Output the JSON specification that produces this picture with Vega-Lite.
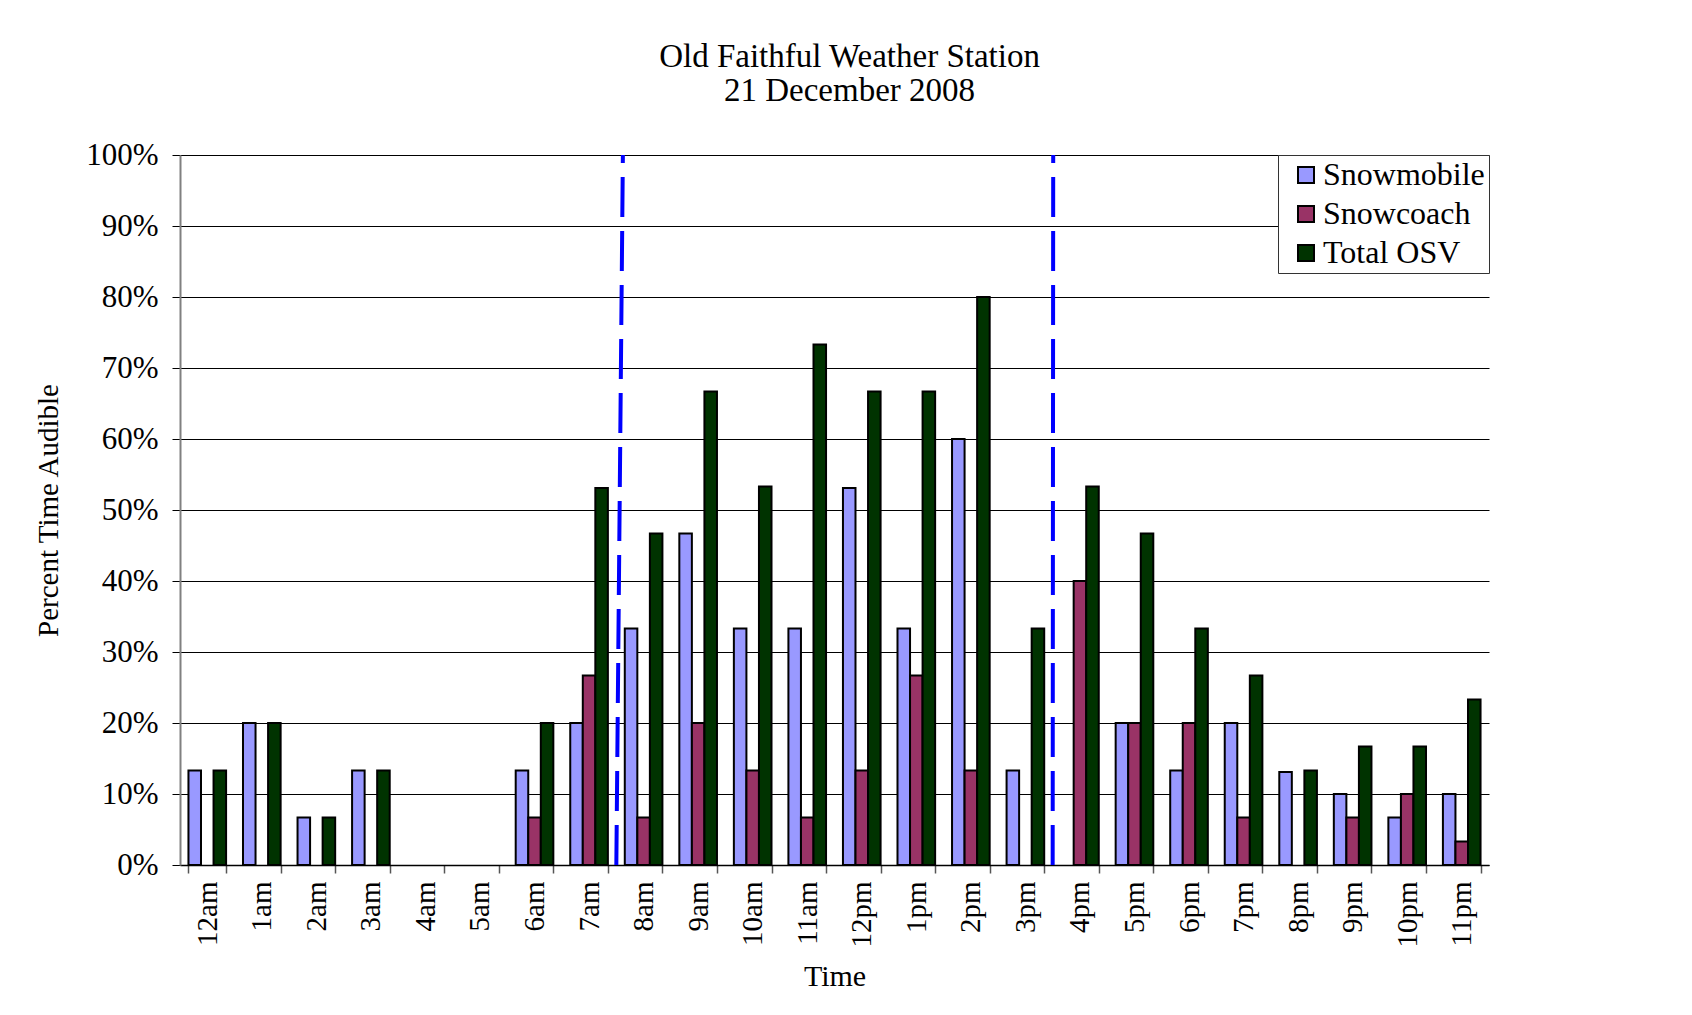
{
  "$schema": "https://vega.github.io/schema/vega-lite/v6.json",
  "width": 1309,
  "height": 710,
  "autosize": {"type": "none"},
  "padding": {"left": 180, "top": 155, "right": 203, "bottom": 150},
  "background": "white",
  "config": {"font": "Liberation Serif", "view": {"stroke": null}},
  "title": {
    "text": ["Old Faithful Weather Station", "21 December 2008"],
    "fontSize": 33, "font": "Liberation Serif", "fontWeight": "normal", "color": "black",
    "anchor": "middle", "frame": "group", "baseline": "bottom", "offset": -2, "lineHeight": 34, "dx": 15
  },
  "datasets": {
    "bars": [
      {"hour": "12am", "series": "Snowmobile", "value": 13.3},
      {"hour": "12am", "series": "Total OSV", "value": 13.3},
      {"hour": "1am", "series": "Snowmobile", "value": 20},
      {"hour": "1am", "series": "Total OSV", "value": 20},
      {"hour": "2am", "series": "Snowmobile", "value": 6.7},
      {"hour": "2am", "series": "Total OSV", "value": 6.7},
      {"hour": "3am", "series": "Snowmobile", "value": 13.3},
      {"hour": "3am", "series": "Total OSV", "value": 13.3},
      {"hour": "6am", "series": "Snowmobile", "value": 13.3},
      {"hour": "6am", "series": "Snowcoach", "value": 6.7},
      {"hour": "6am", "series": "Total OSV", "value": 20},
      {"hour": "7am", "series": "Snowmobile", "value": 20},
      {"hour": "7am", "series": "Snowcoach", "value": 26.7},
      {"hour": "7am", "series": "Total OSV", "value": 53.1},
      {"hour": "8am", "series": "Snowmobile", "value": 33.3},
      {"hour": "8am", "series": "Snowcoach", "value": 6.7},
      {"hour": "8am", "series": "Total OSV", "value": 46.7},
      {"hour": "9am", "series": "Snowmobile", "value": 46.7},
      {"hour": "9am", "series": "Snowcoach", "value": 20},
      {"hour": "9am", "series": "Total OSV", "value": 66.7},
      {"hour": "10am", "series": "Snowmobile", "value": 33.3},
      {"hour": "10am", "series": "Snowcoach", "value": 13.3},
      {"hour": "10am", "series": "Total OSV", "value": 53.3},
      {"hour": "11am", "series": "Snowmobile", "value": 33.3},
      {"hour": "11am", "series": "Snowcoach", "value": 6.7},
      {"hour": "11am", "series": "Total OSV", "value": 73.3},
      {"hour": "12pm", "series": "Snowmobile", "value": 53.1},
      {"hour": "12pm", "series": "Snowcoach", "value": 13.3},
      {"hour": "12pm", "series": "Total OSV", "value": 66.7},
      {"hour": "1pm", "series": "Snowmobile", "value": 33.3},
      {"hour": "1pm", "series": "Snowcoach", "value": 26.7},
      {"hour": "1pm", "series": "Total OSV", "value": 66.7},
      {"hour": "2pm", "series": "Snowmobile", "value": 60},
      {"hour": "2pm", "series": "Snowcoach", "value": 13.3},
      {"hour": "2pm", "series": "Total OSV", "value": 80},
      {"hour": "3pm", "series": "Snowmobile", "value": 13.3},
      {"hour": "3pm", "series": "Total OSV", "value": 33.3},
      {"hour": "4pm", "series": "Snowcoach", "value": 40},
      {"hour": "4pm", "series": "Total OSV", "value": 53.3},
      {"hour": "5pm", "series": "Snowmobile", "value": 20},
      {"hour": "5pm", "series": "Snowcoach", "value": 20},
      {"hour": "5pm", "series": "Total OSV", "value": 46.7},
      {"hour": "6pm", "series": "Snowmobile", "value": 13.3},
      {"hour": "6pm", "series": "Snowcoach", "value": 20},
      {"hour": "6pm", "series": "Total OSV", "value": 33.3},
      {"hour": "7pm", "series": "Snowmobile", "value": 20},
      {"hour": "7pm", "series": "Snowcoach", "value": 6.7},
      {"hour": "7pm", "series": "Total OSV", "value": 26.7},
      {"hour": "8pm", "series": "Snowmobile", "value": 13.1},
      {"hour": "8pm", "series": "Total OSV", "value": 13.3},
      {"hour": "9pm", "series": "Snowmobile", "value": 10},
      {"hour": "9pm", "series": "Snowcoach", "value": 6.7},
      {"hour": "9pm", "series": "Total OSV", "value": 16.7},
      {"hour": "10pm", "series": "Snowmobile", "value": 6.7},
      {"hour": "10pm", "series": "Snowcoach", "value": 10},
      {"hour": "10pm", "series": "Total OSV", "value": 16.7},
      {"hour": "11pm", "series": "Snowmobile", "value": 10},
      {"hour": "11pm", "series": "Snowcoach", "value": 3.3},
      {"hour": "11pm", "series": "Total OSV", "value": 23.3}
    ],
    "periods": [
      {"start": 8, "end": 8.12, "low": 0, "high": 100},
      {"start": 16, "end": 16.01, "low": 0, "high": 100}
    ]
  },
  "layer": [
    {
      "data": {"name": "bars"},
      "mark": {"type": "bar", "stroke": "black", "strokeWidth": 2},
      "encoding": {
        "x": {
          "field": "hour", "type": "nominal", "title": "Time",
          "scale": {
            "domain": ["12am","1am","2am","3am","4am","5am","6am","7am","8am","9am","10am","11am","12pm","1pm","2pm","3pm","4pm","5pm","6pm","7pm","8pm","9pm","10pm","11pm"],
            "paddingInner": 0.31, "paddingOuter": 0.155
          },
          "axis": {
            "tickBand": "extent", "labelAngle": -90, "labelFontSize": 29, "labelFont": "Liberation Serif",
            "labelColor": "black", "labelPadding": 8, "tickSize": 8, "tickColor": "#555555", "tickWidth": 1.5,
            "domainColor": "black", "domainWidth": 1.5, "grid": false,
            "titleFontSize": 30, "titleFont": "Liberation Serif", "titleFontWeight": "normal", "titleColor": "black", "titlePadding": 14
          }
        },
        "xOffset": {"field": "series", "type": "nominal", "sort": ["Snowmobile", "Snowcoach", "Total OSV"], "scale": {"domain": ["Snowmobile", "Snowcoach", "Total OSV"]}},
        "y": {
          "field": "value", "type": "quantitative", "title": "Percent Time Audible",
          "scale": {"domain": [0, 100], "nice": false},
          "axis": {
            "values": [0,10,20,30,40,50,60,70,80,90,100], "labelExpr": "datum.value + '%'",
            "grid": true, "gridColor": "black", "gridWidth": 1,
            "domainColor": "#808080", "domainWidth": 2, "tickColor": "black", "tickSize": 8, "tickWidth": 1,
            "labelPadding": 14, "labelFontSize": 31, "labelFont": "Liberation Serif", "labelColor": "black",
            "titleFontSize": 29, "titleFont": "Liberation Serif", "titleFontWeight": "normal", "titleColor": "black", "titlePadding": 22
          }
        },
        "color": {
          "field": "series", "type": "nominal",
          "scale": {"domain": ["Snowmobile", "Snowcoach", "Total OSV"], "range": ["#9999FF", "#993366", "#003300"]},
          "legend": {
            "title": null, "orient": "top-right", "offset": 0, "strokeColor": "#333333", "fillColor": "white",
            "padding": 4, "symbolType": "square", "symbolSize": 256, "symbolStrokeColor": "black", "symbolStrokeWidth": 2,
            "symbolOpacity": 1, "symbolOffset": 8, "labelFontSize": 32, "labelFont": "Liberation Serif", "labelColor": "black",
            "labelLimit": 400, "rowPadding": 7, "labelOffset": 1
          }
        }
      }
    },
    {
      "data": {"name": "periods"},
      "mark": {"type": "rule", "color": "#0000FF", "strokeWidth": 4, "strokeDash": [40, 14], "strokeCap": "butt"},
      "encoding": {
        "x": {"field": "start", "type": "quantitative", "scale": {"domain": [0, 24], "nice": false, "zero": true}, "axis": null},
        "x2": {"field": "end"},
        "y": {"field": "low", "type": "quantitative", "title": "Percent Time Audible"},
        "y2": {"field": "high"}
      }
    }
  ],
  "resolve": {"scale": {"x": "independent"}}
}
